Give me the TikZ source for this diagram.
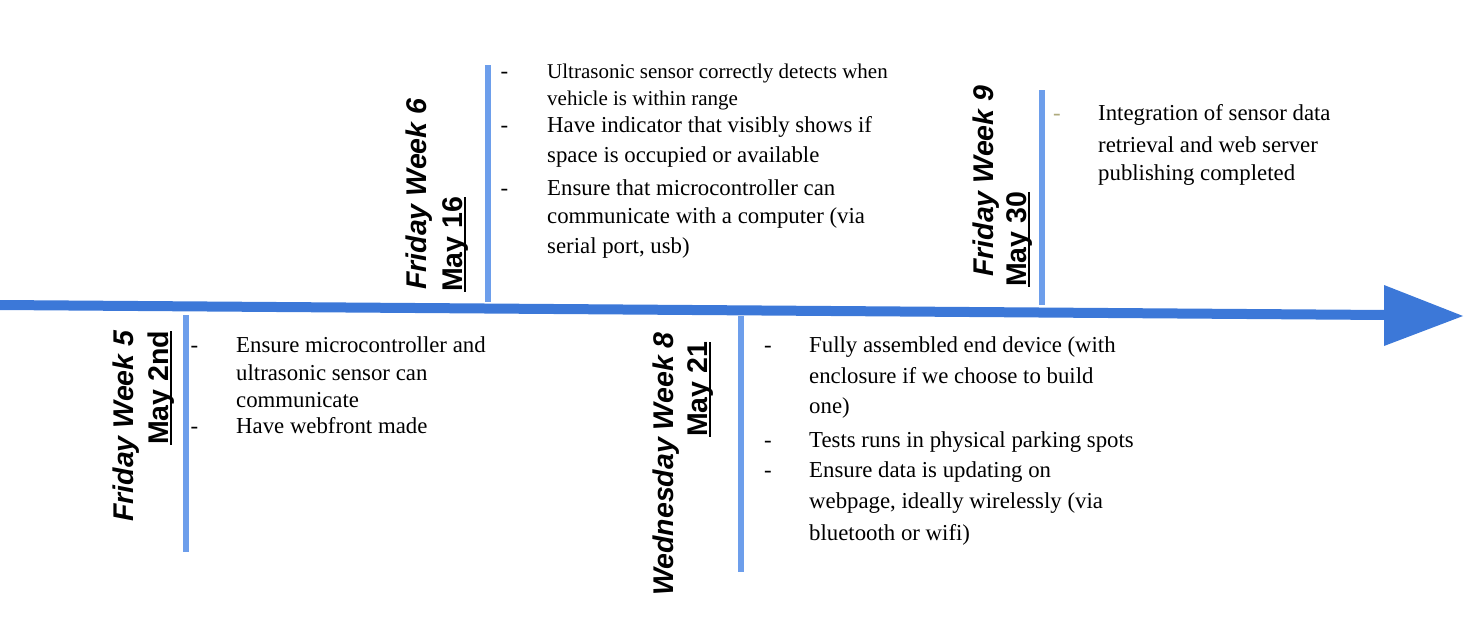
\documentclass[tikz,border=0pt]{standalone}
\usepackage{fontspec}
\setmainfont{Liberation Serif}
\newfontfamily\labfont{Liberation Sans}
\definecolor{arrowblue}{RGB}{60,120,216}
\definecolor{lineblue}{RGB}{109,158,235}
\definecolor{dimdash}{RGB}{175,170,125}
\newcommand\myul[1]{\sbox0{#1}\rlap{\rule[-4pt]{\wd0}{1.8pt}}\usebox0}
\begin{document}
\begin{tikzpicture}[x=1pt,y=-1pt,
  body/.style={anchor=base west, inner sep=0pt, font=\fontsize{22.8}{27}\selectfont},
  smallbody/.style={anchor=base west, inner sep=0pt, font=\fontsize{21}{25}\selectfont},
  bullet/.style={anchor=base west, inner sep=0pt, font=\fontsize{22.8}{27}\selectfont},
  lab/.style={anchor=base west, inner sep=0pt, rotate=90, font=\labfont\bfseries\fontsize{28.5}{34}\selectfont},
  tick/.style={draw=lineblue, line width=6pt},
  shaft/.style={draw=arrowblue, line width=10pt}]
\useasboundingbox (0,0) rectangle (1473,635);

% vertical milestone lines
\coordinate (v1t) at (186,315); \coordinate (v1b) at (186,552);
\coordinate (v2t) at (487.5,65); \coordinate (v2b) at (487.5,302);
\coordinate (v3t) at (741,316); \coordinate (v3b) at (741,572);
\coordinate (v4t) at (1041.5,90); \coordinate (v4b) at (1041.5,305);
\path[tick] (v1t) -- (v1b);
\path[tick] (v2t) -- (v2b);
\path[tick] (v3t) -- (v3b);
\path[tick] (v4t) -- (v4b);

% main timeline arrow
\coordinate (as) at (0,305);
\coordinate (ae) at (1386,315);
\coordinate (hu) at (1384,285);
\coordinate (ht) at (1463,316);
\coordinate (hd) at (1384,346);
\path[shaft] (as) -- (ae);
\fill[arrowblue] (hu) -- (ht) -- (hd) -- cycle;

% labels
\node[lab] (l1a) at (133,522) {\itshape Friday Week 5};
\node[lab] (l1b) at (168,445) {\myul{May 2nd}};
\node[lab] (l2a) at (426,290) {\itshape Friday Week 6};
\node[lab] (l2b) at (462,292) {\myul{May 16}};
\node[lab] (l3a) at (673,596) {\itshape Wednesday Week 8};
\node[lab] (l3b) at (707,437) {\myul{May 21}};
\node[lab] (l4a) at (993,277) {\itshape Friday Week 9};
\node[lab] (l4b) at (1026,287) {\myul{May 30}};

% Week 5 items
\node[bullet] (d5a) at (190.5,352) {-};
\node[bullet] (d5b) at (190.5,433) {-};
\node[body] (t5a) at (236,352) {Ensure microcontroller and};
\node[body] (t5b) at (236,380) {ultrasonic sensor can};
\node[body] (t5c) at (236,407) {communicate};
\node[body] (t5d) at (236,433) {Have webfront made};

% Week 6 items
\node[bullet] (d6a) at (500.5,78) {-};
\node[bullet] (d6b) at (500.5,132) {-};
\node[bullet] (d6c) at (500.5,195) {-};
\node[smallbody] (t6a) at (547,78) {Ultrasonic sensor correctly detects when};
\node[smallbody] (t6b) at (547,105) {vehicle is within range};
\node[body] (t6c) at (547,132) {Have indicator that visibly shows if};
\node[body] (t6d) at (547,162) {space is occupied or available};
\node[body] (t6e) at (547,195) {Ensure that microcontroller can};
\node[body] (t6f) at (547,223) {communicate with a computer (via};
\node[body] (t6g) at (547,253) {serial port, usb)};

% Week 8 items
\node[bullet] (d8a) at (764,352) {-};
\node[bullet] (d8b) at (764,447) {-};
\node[bullet] (d8c) at (764,477) {-};
\node[body] (t8a) at (809,352) {Fully assembled end device (with};
\node[body] (t8b) at (809,383) {enclosure if we choose to build};
\node[body] (t8c) at (809,413) {one)};
\node[body] (t8d) at (809,447) {Tests runs in physical parking spots};
\node[body] (t8e) at (809,477) {Ensure data is updating on};
\node[body] (t8f) at (809,508) {webpage, ideally wirelessly (via};
\node[body] (t8g) at (809,540) {bluetooth or wifi)};

% Week 9 items
\node[bullet, text=dimdash] (d9a) at (1053,120) {-};
\node[body] (t9a) at (1098,120) {Integration of sensor data};
\node[body] (t9b) at (1098,152) {retrieval and web server};
\node[body] (t9c) at (1098,180) {publishing completed};
\end{tikzpicture}
\end{document}
